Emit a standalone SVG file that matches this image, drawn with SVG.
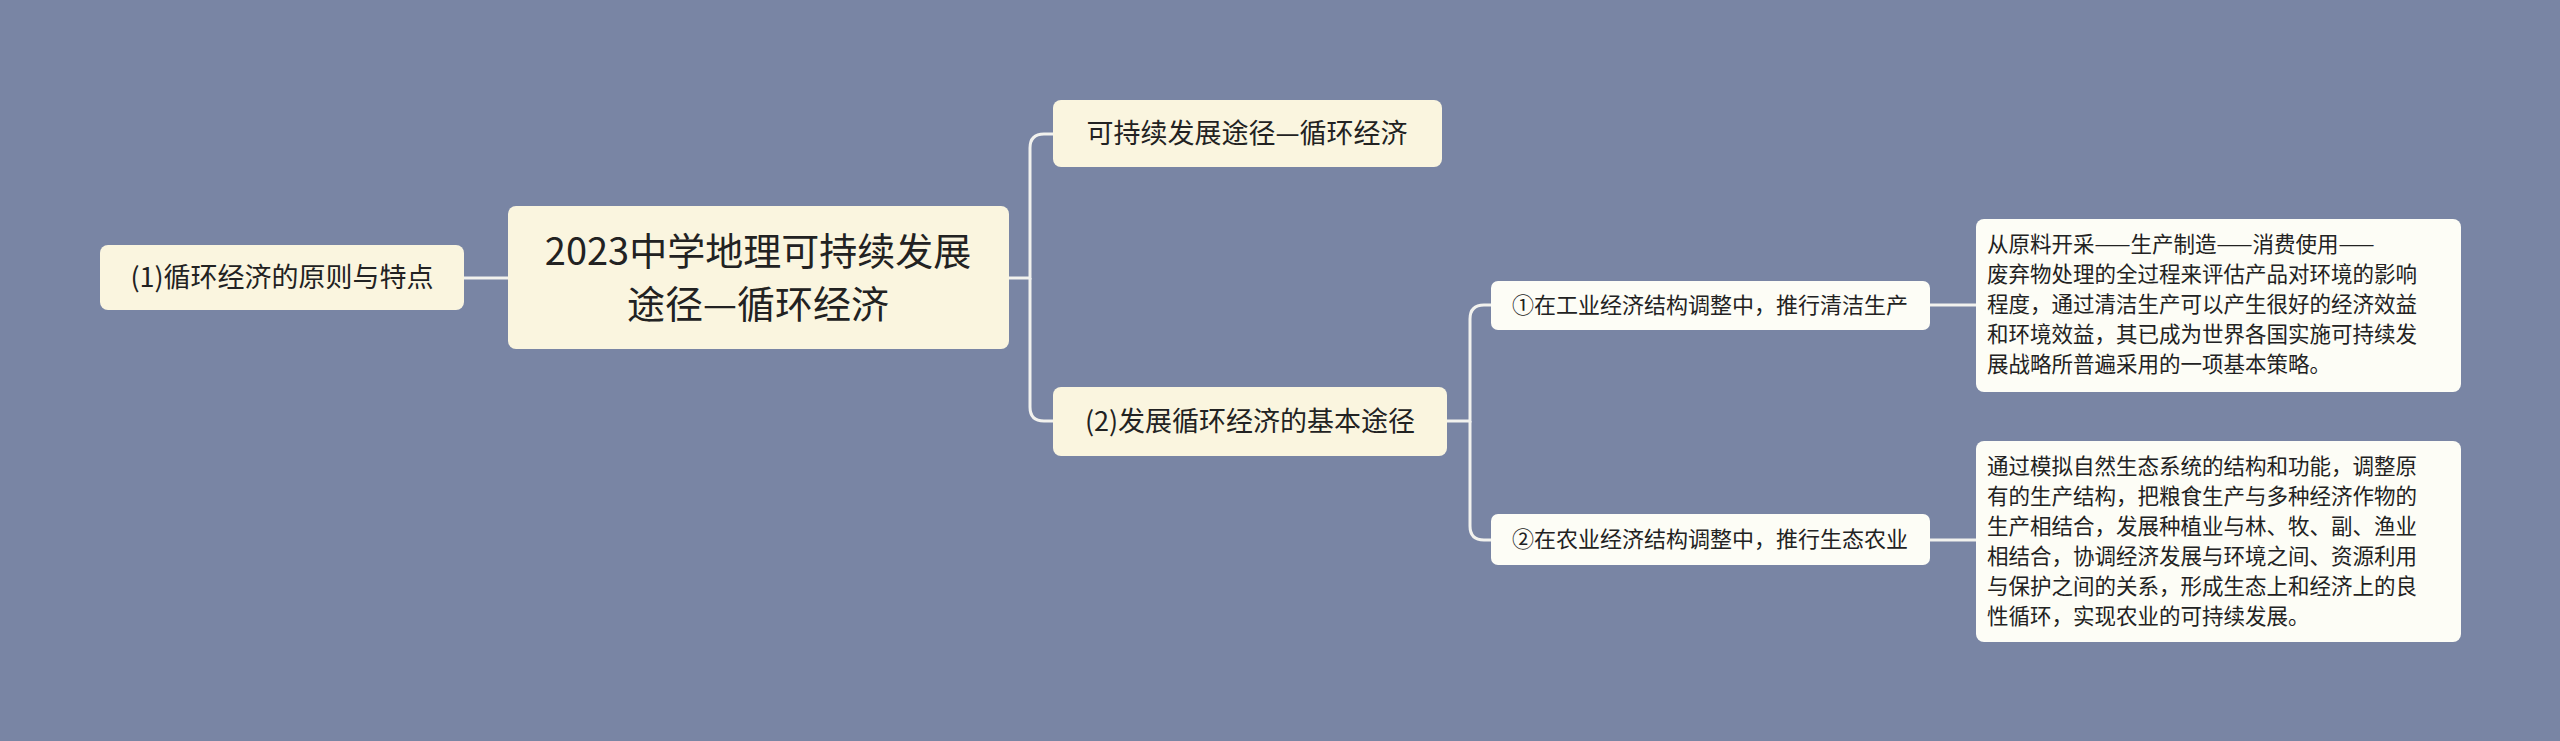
<svg xmlns="http://www.w3.org/2000/svg" width="2560" height="741" viewBox="0 0 2560 741">
<style>
.b{fill:#faf5df}
.l{fill:#fdfdf6}
text{font-family:"Noto Sans CJK SC","Noto Sans",sans-serif;fill:#222}
.c{fill:none;stroke:#f2f2ee;stroke-width:3}
</style>
<rect width="2560" height="741" fill="#7985a4"/>
<g id="connectors">
<path class="c" d="M508 278 H464"/>
<path class="c" d="M1009 278 H1030 V148 Q1030 134 1044 134 H1053"/>
<path class="c" d="M1030 278 V407 Q1030 421 1044 421 H1053"/>
<path class="c" d="M1447 421 H1470 V319 Q1470 305 1484 305 H1491"/>
<path class="c" d="M1470 421 V526 Q1470 540 1484 540 H1491"/>
<path class="c" d="M1930 305 H1976"/>
<path class="c" d="M1930 540 H1976"/>
</g>
<g id="root"><rect class="b" x="508" y="206" width="501" height="143" rx="8"/>
<text x="758" y="265" font-size="38" text-anchor="middle">2023中学地理可持续发展</text>
<text x="758" y="318" font-size="38" text-anchor="middle">途径—循环经济</text></g>
<g id="left"><rect class="b" x="100" y="245" width="364" height="65" rx="8"/>
<text x="282" y="287" font-size="27" text-anchor="middle">(1)循环经济的原则与特点</text></g>
<g id="top"><rect class="b" x="1053" y="100" width="389" height="67" rx="8"/>
<text x="1247" y="143" font-size="27" text-anchor="middle">可持续发展途径—循环经济</text></g>
<g id="mid"><rect class="b" x="1053" y="387" width="394" height="69" rx="8"/>
<text x="1250" y="431" font-size="27" text-anchor="middle">(2)发展循环经济的基本途径</text></g>
<g id="n1"><rect class="l" x="1491" y="281" width="439" height="49" rx="7"/>
<text x="1710" y="313" font-size="22" text-anchor="middle">①在工业经济结构调整中，推行清洁生产</text></g>
<g id="n2"><rect class="l" x="1491" y="514" width="439" height="51" rx="7"/>
<text x="1710" y="547" font-size="22" text-anchor="middle">②在农业经济结构调整中，推行生态农业</text></g>
<g id="r1"><rect class="l" x="1976" y="219" width="485" height="173" rx="8"/>
<g font-size="21.5"><text x="1987" y="252">从原料开采——生产制造——消费使用——</text>
<text x="1987" y="282">废弃物处理的全过程来评估产品对环境的影响</text>
<text x="1987" y="312">程度，通过清洁生产可以产生很好的经济效益</text>
<text x="1987" y="342">和环境效益，其已成为世界各国实施可持续发</text>
<text x="1987" y="372">展战略所普遍采用的一项基本策略。</text></g></g>
<g id="r2"><rect class="l" x="1976" y="441" width="485" height="201" rx="8"/>
<g font-size="21.5"><text x="1987" y="474">通过模拟自然生态系统的结构和功能，调整原</text>
<text x="1987" y="504">有的生产结构，把粮食生产与多种经济作物的</text>
<text x="1987" y="534">生产相结合，发展种植业与林、牧、副、渔业</text>
<text x="1987" y="564">相结合，协调经济发展与环境之间、资源利用</text>
<text x="1987" y="594">与保护之间的关系，形成生态上和经济上的良</text>
<text x="1987" y="624">性循环，实现农业的可持续发展。</text></g></g>
</svg>
